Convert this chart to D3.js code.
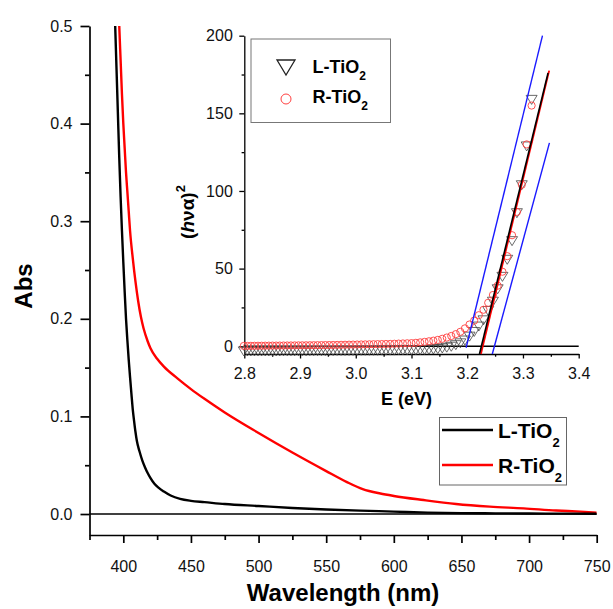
<!DOCTYPE html>
<html>
<head>
<meta charset="utf-8">
<script src="https://cdn.jsdelivr.net/npm/d3@7"></script>
<style>
  body { margin: 0; background: #fff; }
  svg { display: block; font-family: 'Liberation Sans', Arial, sans-serif; }
</style>
</head>
<body>
<svg id="chart"></svg>
<script>
// main spectrum: absorbance vs wavelength (nm)
const lWave = [393, 394, 395, 396, 397, 398, 399, 400, 401, 402, 403, 404, 405, 406, 407, 408, 409, 410,
  412, 414, 416, 418, 420, 423, 426, 430, 435, 442, 450, 460, 475,
  500, 525, 550, 575, 600, 625, 650, 675, 700, 725, 750];
const lAbs = [0.545, 0.50, 0.455, 0.41, 0.365, 0.325, 0.29, 0.258, 0.228, 0.20, 0.178, 0.158, 0.14, 0.123, 0.107, 0.095, 0.084, 0.075,
  0.064, 0.055, 0.048, 0.042, 0.037, 0.031, 0.027, 0.023, 0.019, 0.0155, 0.0135, 0.0122, 0.0102,
  0.0082, 0.0062, 0.0047, 0.0035, 0.0025, 0.0014, 0.0009, 0.0007, 0.0005, 0.0004, 0.0002];

const rWave = [396, 397, 398, 399, 400, 401, 402, 403, 404, 405,
  407, 409, 411, 413, 415, 418, 420, 425, 430, 440, 450, 460, 475,
  500, 525, 550, 565, 577, 590, 600, 622, 646, 671, 696, 720, 738, 750];
const rAbs = [0.54, 0.50, 0.465, 0.43, 0.40, 0.375, 0.35, 0.33, 0.31, 0.29,
  0.262, 0.238, 0.218, 0.202, 0.19, 0.177, 0.17, 0.159, 0.151, 0.139, 0.128, 0.118, 0.104,
  0.083, 0.063, 0.044, 0.033, 0.0255, 0.021, 0.0185, 0.0143, 0.0103, 0.0076, 0.0058, 0.0036, 0.0024, 0.0014];

// inset (Tauc plot): wavelength of each point, converted to E = 1240 / nm
const insetWave = [374, 375, 376, 377, 378, 379, 380, 381, 382, 383, 384, 385, 386, 387, 388, 389, 390,
  391, 392, 393, 394, 395, 396, 397, 398, 399, 400, 401, 402, 403, 404, 405, 406, 407, 408, 409, 410,
  411, 412, 413, 414, 415, 416, 417, 418, 419, 420, 421, 422, 423, 424, 425, 426, 427, 428, 429, 430,
  431, 432, 433, 434, 435, 436, 437, 438, 439, 440, 441, 442, 443];
const insetL = [159, 129, 104, 86, 68, 56, 45, 37, 29, 23, 17, 13, 9.5, 6.5, 4, 2.2, 1,
  0, -0.6, -1.1, -1.5, -1.8, -2, -2.1, -2.2, -2.3, -2.3,
  -2.4, -2.4, -2.4, -2.5, -2.5, -2.5, -2.5, -2.6, -2.6, -2.6,
  -2.6, -2.6, -2.7, -2.7, -2.7, -2.7, -2.7, -2.7, -2.8, -2.8,
  -2.8, -2.8, -2.8, -2.8, -2.8, -2.9, -2.9, -2.9, -2.9, -2.9,
  -2.9, -2.9, -3, -3, -3, -3, -3, -3, -3, -3, -3, -3, -3];
const insetR = [155, 130, 104, 86.5, 71.5, 58, 48, 39, 33, 28, 23.5, 20, 16.5, 14, 11.5, 9.3, 7.8,
  6.6, 5.6, 4.8, 4.1, 3.6, 3.2, 2.8, 2.5, 2.2, 2.0,
  1.9, 1.8, 1.7, 1.6, 1.5, 1.45, 1.4, 1.35, 1.3, 1.25,
  1.2, 1.15, 1.1, 1.05, 1.0, 0.95, 0.9, 0.85, 0.8, 0.78,
  0.75, 0.72, 0.7, 0.67, 0.65, 0.62, 0.6, 0.57, 0.55, 0.52,
  0.5, 0.47, 0.45, 0.42, 0.4, 0.37, 0.35, 0.32, 0.3, 0.28,
  0.25, 0.22, 0.2];

// straight lines drawn over the inset: [E, value] end points
const fitBlue1 = [[3.198, -1], [3.335, 200]];
const fitBlue2 = [[3.245, -5], [3.3475, 131]];
const fitRed = [[3.2245, -5], [3.347, 177.5]];
const fitBlack = [[3.222, -5], [3.345, 176]];

const seriesNames = ['L-TiO', 'R-TiO'];

const xTicks = [400, 450, 500, 550, 600, 650, 700, 750];
const xMinor = [375, 425, 475, 525, 575, 625, 675, 725];
const yTicks = [0, 0.1, 0.2, 0.3, 0.4, 0.5];
const yMinor = [0.05, 0.15, 0.25, 0.35, 0.45];
const insetXTicks = [2.8, 2.9, 3.0, 3.1, 3.2, 3.3, 3.4];
const insetXMinor = [2.85, 2.95, 3.05, 3.15, 3.25, 3.35];
const insetYTicks = [0, 50, 100, 150, 200];
const insetYMinor = [25, 75, 125, 175];

const W = 613, H = 609;
const svg = d3.select('#chart').attr('width', W).attr('height', H);

// ---------- main plot ----------
const x = d3.scaleLinear().domain([375, 750]).range([89.5, 596.7]);
const y = d3.scaleLinear().domain([-0.0215, 0.5]).range([535, 26]);

svg.append('defs').append('clipPath').attr('id', 'mainClip')
  .append('rect')
  .attr('x', x.range()[0]).attr('y', y.range()[1])
  .attr('width', x.range()[1] - x.range()[0])
  .attr('height', y.range()[0] - y.range()[1]);

function styleAxis(g, width, size) {
  g.select('.domain').attr('stroke', '#000').attr('stroke-width', width);
  g.selectAll('.tick line').attr('stroke', '#000').attr('stroke-width', width);
  g.selectAll('.tick text').attr('fill', '#111').style('font-size', size + 'px');
}

const xAxisG = svg.append('g')
  .attr('transform', `translate(0,${y.range()[0]})`)
  .call(d3.axisBottom(x).tickValues(xTicks).tickSize(8).tickSizeOuter(0).tickPadding(18));
styleAxis(xAxisG, 1.7, 16);
const xMinorG = svg.append('g')
  .attr('transform', `translate(0,${y.range()[0]})`)
  .call(d3.axisBottom(x).tickValues(xMinor).tickSize(5).tickFormat(''));
xMinorG.select('.domain').remove();
styleAxis(xMinorG, 1.7, 16);

const yAxisG = svg.append('g')
  .attr('transform', `translate(${x.range()[0]},0)`)
  .call(d3.axisLeft(y).tickValues(yTicks).tickSize(9).tickSizeOuter(0).tickPadding(8)
    .tickFormat(d3.format('.1f')));
styleAxis(yAxisG, 1.7, 16);
const yMinorG = svg.append('g')
  .attr('transform', `translate(${x.range()[0]},0)`)
  .call(d3.axisLeft(y).tickValues(yMinor).tickSize(4.5).tickFormat(''));
yMinorG.select('.domain').remove();
styleAxis(yMinorG, 1.7, 16);

// zero line
svg.append('line')
  .attr('x1', x(375)).attr('x2', x(750))
  .attr('y1', y(0)).attr('y2', y(0))
  .attr('stroke', '#000').attr('stroke-width', 1.7);

const mainLine = d3.line().x(d => x(d[0])).y(d => y(d[1])).curve(d3.curveMonotoneX);
const curves = svg.append('g').attr('clip-path', 'url(#mainClip)');
curves.append('path')
  .attr('d', mainLine(rWave.map((w, i) => [w, rAbs[i]])))
  .attr('fill', 'none').attr('stroke', '#ff0000').attr('stroke-width', 2.4);
curves.append('path')
  .attr('d', mainLine(lWave.map((w, i) => [w, lAbs[i]])))
  .attr('fill', 'none').attr('stroke', '#000').attr('stroke-width', 2.4);

// axis titles
svg.append('text')
  .attr('x', (x.range()[0] + x.range()[1]) / 2).attr('y', 601)
  .attr('text-anchor', 'middle')
  .style('font-size', '24px').style('font-weight', 'bold')
  .text('Wavelength (nm)');
svg.append('text')
  .attr('transform', 'translate(32,286) rotate(-90)')
  .attr('text-anchor', 'middle')
  .style('font-size', '24px').style('font-weight', 'bold')
  .text('Abs');

// main legend
const legend = svg.append('g');
legend.append('rect')
  .attr('x', 439.5).attr('y', 417.5).attr('width', 127).attr('height', 67.5)
  .attr('fill', '#fff').attr('stroke', '#666').attr('stroke-width', 1);
[['#000', 430, 438], ['#ff0000', 465, 473]].forEach((row, i) => {
  legend.append('line')
    .attr('x1', 442).attr('x2', 493).attr('y1', row[1]).attr('y2', row[1])
    .attr('stroke', row[0]).attr('stroke-width', 2.4);
  const t = legend.append('text')
    .attr('x', 498).attr('y', row[2])
    .style('font-size', '21px').style('font-weight', 'bold');
  t.append('tspan').text(seriesNames[i]);
  t.append('tspan').attr('dy', 9).style('font-size', '13px').text('2');
});

// ---------- inset ----------
const ix = d3.scaleLinear().domain([2.8, 3.4]).range([244.3, 578.7]);
const iy = d3.scaleLinear().domain([-5, 200]).range([354, 35.7]);

const ixAxisG = svg.append('g')
  .attr('transform', `translate(0,${iy.range()[0]})`)
  .call(d3.axisBottom(ix).tickValues(insetXTicks).tickSize(4.5).tickSizeOuter(0).tickPadding(9)
    .tickFormat(d3.format('.1f')));
styleAxis(ixAxisG, 1.3, 16);
const ixMinorG = svg.append('g')
  .attr('transform', `translate(0,${iy.range()[0]})`)
  .call(d3.axisBottom(ix).tickValues(insetXMinor).tickSize(2.7).tickFormat(''));
ixMinorG.select('.domain').remove();
styleAxis(ixMinorG, 1.3, 16);

const iyAxisG = svg.append('g')
  .attr('transform', `translate(${ix.range()[0]},0)`)
  .call(d3.axisLeft(iy).tickValues(insetYTicks).tickSize(5).tickSizeOuter(0).tickPadding(6.5));
styleAxis(iyAxisG, 1.3, 16);
const iyMinorG = svg.append('g')
  .attr('transform', `translate(${ix.range()[0]},0)`)
  .call(d3.axisLeft(iy).tickValues(insetYMinor).tickSize(2.7).tickFormat(''));
iyMinorG.select('.domain').remove();
styleAxis(iyMinorG, 1.3, 16);

svg.append('line')
  .attr('x1', ix(2.8)).attr('x2', ix(3.4))
  .attr('y1', iy(0)).attr('y2', iy(0))
  .attr('stroke', '#000').attr('stroke-width', 1.4);

const insetE = insetWave.map(w => 1240 / w);
const triPath = 'M-5.5,-4L5.5,-4L0,5Z';

svg.append('g').selectAll('path.tri')
  .data(insetE.map((e, i) => [e, insetL[i]]))
  .enter()
  .append('path')
  .attr('class', 'tri')
  .attr('d', triPath)
  .attr('transform', d => `translate(${ix(d[0])},${iy(d[1])})`)
  .attr('fill', 'none').attr('stroke', '#444').attr('stroke-width', 0.8);

svg.append('g').selectAll('circle')
  .data(insetE.map((e, i) => [e, insetR[i]]))
  .enter()
  .append('circle')
  .attr('cx', d => ix(d[0])).attr('cy', d => iy(d[1])).attr('r', 3.6)
  .attr('fill', 'none').attr('stroke', '#ff4040').attr('stroke-width', 0.9);

const fitLine = d3.line().x(d => ix(d[0])).y(d => iy(d[1]));
[[fitBlue1, '#1a1aff', 1.4], [fitBlue2, '#1a1aff', 1.4], [fitRed, '#ff0000', 1.8], [fitBlack, '#000', 1.6]]
  .forEach(f => {
    svg.append('path')
      .attr('d', fitLine(f[0]))
      .attr('fill', 'none').attr('stroke', f[1]).attr('stroke-width', f[2]);
  });

// inset titles
svg.append('text')
  .attr('x', (ix.range()[0] + ix.range()[1]) / 2 - 5).attr('y', 405)
  .attr('text-anchor', 'middle')
  .style('font-size', '18px').style('font-weight', 'bold')
  .text('E (eV)');
const ylab = svg.append('text')
  .attr('transform', 'translate(194,212) rotate(-90)')
  .attr('text-anchor', 'middle')
  .style('font-size', '19px').style('font-weight', 'bold');
ylab.append('tspan').text('(');
ylab.append('tspan').style('font-style', 'italic').text('h');
ylab.append('tspan').text('να)');
ylab.append('tspan').attr('dy', -9).style('font-size', '13px').text('2');

// inset legend
const ileg = svg.append('g');
ileg.append('rect')
  .attr('x', 251).attr('y', 39).attr('width', 139.5).attr('height', 83.5)
  .attr('fill', 'none').attr('stroke', '#777').attr('stroke-width', 1);
ileg.append('path')
  .attr('d', 'M-9,-7L9,-7L0,8Z')
  .attr('transform', 'translate(286,67)')
  .attr('fill', 'none').attr('stroke', '#222').attr('stroke-width', 1.3);
ileg.append('circle')
  .attr('cx', 286).attr('cy', 99).attr('r', 5)
  .attr('fill', 'none').attr('stroke', '#ff4040').attr('stroke-width', 1);
[73, 103].forEach((by, i) => {
  const t = ileg.append('text')
    .attr('x', 312.5).attr('y', by)
    .style('font-size', '18px').style('font-weight', 'bold');
  t.append('tspan').text(seriesNames[i]);
  t.append('tspan').attr('dy', 7).style('font-size', '12px').text('2');
});
</script>
</body>
</html>
